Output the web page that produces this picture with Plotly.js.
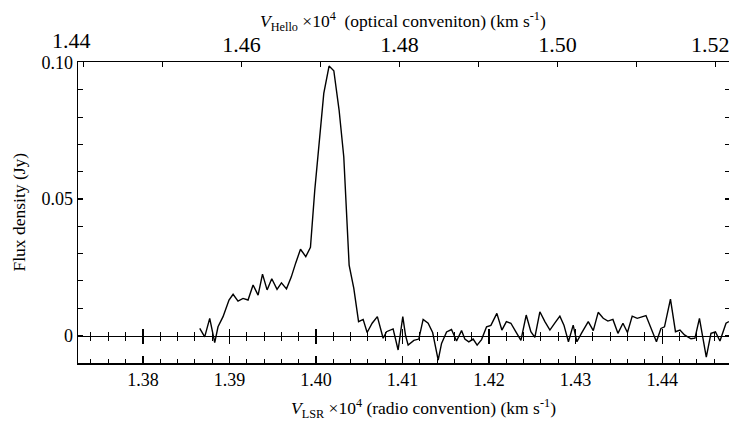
<!DOCTYPE html>
<html>
<head>
<meta charset="utf-8">
<script src="https://cdn.plot.ly/plotly-3.0.1.min.js"></script>
<style>
html,body{margin:0;padding:0;overflow:hidden;background:#fff;width:729px;height:421px;}
#chart{width:733px;height:421px;}
</style>
</head>
<body>
<div id="chart"></div>
<script>
// Radio-convention velocity (x10^4 km/s) of each channel
const velocityRadio = [
1.38657,1.38714,1.38772,1.38830,1.38868,1.38926,1.38995,1.39042,1.39099,1.39157,
1.39215,1.39273,1.39331,1.39382,1.39435,1.39489,1.39550,1.39601,1.39659,1.39714,
1.39766,1.39821,1.39882,1.39936,1.39986,1.40044,1.40090,1.40151,1.40206,1.40267,
1.40321,1.40383,1.40437,1.40492,1.40545,1.40591,1.40649,1.40709,1.40776,1.40815,
1.40891,1.40949,1.41003,1.41035,1.41065,1.41131,1.41188,1.41238,1.41296,1.41348,
1.41412,1.41451,1.41509,1.41566,1.41624,1.41682,1.41720,1.41766,1.41816,1.41862,
1.41913,1.41971,1.42021,1.42090,1.42148,1.42200,1.42252,1.42310,1.42368,1.42429,
1.42483,1.42529,1.42587,1.42645,1.42703,1.42761,1.42818,1.42865,1.42917,1.42972,
1.43015,1.43067,1.43146,1.43204,1.43261,1.43319,1.43373,1.43431,1.43489,1.43547,
1.43599,1.43654,1.43712,1.43813,1.43871,1.43934,1.43986,1.44027,1.44096,1.44154,
1.44206,1.44258,1.44333,1.44379,1.44431,1.44464,1.44510,1.44564,1.44616,1.44668,
1.44738,1.44772
];
// Flux density (Jy)
const fluxDensity = [
0.0026,-0.0005,0.0063,-0.0026,0.0032,0.0069,0.0130,0.0151,0.0126,0.0136,
0.0130,0.0185,0.0148,0.0225,0.0167,0.0208,0.0169,0.0193,0.0171,0.0214,
0.0266,0.0316,0.0289,0.0323,0.0533,0.0716,0.0887,0.0987,0.0970,0.0826,
0.0655,0.0258,0.0173,0.0051,0.0059,0.0011,0.0045,0.0069,-0.0010,0.0014,
0.0024,-0.0053,0.0069,0.0000,-0.0035,-0.0018,-0.0013,0.0059,0.0045,0.0011,
-0.0090,-0.0029,0.0013,0.0022,-0.0020,0.0018,-0.0013,-0.0023,-0.0013,-0.0035,
-0.0015,0.0032,0.0037,0.0081,0.0020,0.0051,0.0045,0.0013,-0.0018,0.0075,
0.0014,-0.0007,0.0087,0.0051,0.0020,0.0046,0.0071,0.0038,-0.0023,0.0038,
-0.0023,0.0008,0.0051,0.0018,0.0085,0.0063,0.0053,0.0059,0.0008,0.0045,
0.0011,0.0071,0.0063,0.0073,0.0026,-0.0023,0.0026,0.0032,0.0133,0.0014,
0.0020,0.0002,-0.0012,-0.0010,0.0063,0.0002,-0.0079,0.0008,0.0013,-0.0020,
0.0045,0.0051
];
const yTickVals = [0, 0.05, 0.10];
const yTickText = ['0', '0.05', '0.10'];
// optical-convention (top) axis labels
const topTickVals = [1.46, 1.48, 1.50];
const topTickText = ['1.46', '1.48', '1.50'];
const topEdgeLabels = ['1.44', '1.52'];
const topEdgeVals = [1.4385, 1.5194];

const xRange = [1.37250, 1.44784];
const x2Range = [1.43932, 1.52181];
const yRange = [-0.01007, 0.1002];
const zeroPos = (0 - yRange[0]) / (yRange[1] - yRange[0]);

const serif = 'Liberation Serif, Times New Roman, serif';
const tickFont = {family: serif, size: 18, color: '#000'};
const topTickFont = {family: serif, size: 22, color: '#000'};
const titleFont = {family: serif, size: 17.5, color: '#000'};

const trace = {
  x: velocityRadio, y: fluxDensity, type: 'scatter', mode: 'lines',
  line: {color: '#000', width: 1.4}, xaxis: 'x', yaxis: 'y', showlegend: false,
  hoverinfo: 'skip'
};

const zeroAxis = (ticksDir, len, minorLen) => ({
  overlaying: 'x', anchor: 'free', position: zeroPos, side: 'bottom',
  range: xRange, showgrid: false, zeroline: false, showticklabels: false,
  showline: true, linecolor: '#000', linewidth: 1.5,
  tickmode: 'linear', tick0: 1.38, dtick: 0.01, ticks: ticksDir, ticklen: len, tickwidth: 1.2, tickcolor: '#000',
  minor: {tick0: 1.38, dtick: 0.002, ticks: ticksDir, ticklen: minorLen, tickwidth: 1, tickcolor: '#000', showgrid: false}
});

const annotations = [
  {text: '<i>V</i><sub>Hello</sub> ×10<sup>4</sup>  (optical conveniton) (km s<sup>-1</sup>)',
   xref: 'paper', yref: 'paper', x: 0.499, y: 1, yshift: 41, xanchor: 'center', yanchor: 'middle',
   showarrow: false, font: titleFont},
  {text: '<i>V</i><sub>LSR</sub> ×10<sup>4</sup> (radio convention) (km s<sup>-1</sup>)',
   xref: 'paper', yref: 'paper', x: 0.53, y: 0, yshift: -45, xanchor: 'center', yanchor: 'middle',
   showarrow: false, font: titleFont},
  {text: 'Flux density (Jy)', textangle: -90,
   xref: 'paper', yref: 'paper', x: 0, xshift: -60, y: 0.5, xanchor: 'center', yanchor: 'middle',
   showarrow: false, font: titleFont}
];
// edge labels of the top axis, placed via the top axis scale (converted to paper fraction)
topEdgeLabels.forEach((t, i) => annotations.push({
  text: t, xref: 'paper', yref: 'paper',
  x: (topEdgeVals[i] - x2Range[0]) / (x2Range[1] - x2Range[0]), y: 1, yshift: i === 0 ? 22 : 18,
  xanchor: 'center', yanchor: 'middle', showarrow: false, font: topTickFont
}));

const layout = {
  width: 733, height: 421,
  margin: {l: 78, r: 3, t: 62, b: 58},
  paper_bgcolor: '#fff', plot_bgcolor: '#fff',
  showlegend: false,
  xaxis: {
    range: xRange, showgrid: false, zeroline: false,
    showline: true, linecolor: '#000', linewidth: 1.5,
    tickmode: 'linear', tick0: 1.38, dtick: 0.01, tickformat: '.2f',
    ticks: 'inside', ticklen: 7, tickwidth: 1.2, tickcolor: '#000',
    minor: {tick0: 1.38, dtick: 0.002, ticks: 'inside', ticklen: 4, tickwidth: 1, tickcolor: '#000', showgrid: false},
    tickfont: tickFont
  },
  xaxis2: {
    overlaying: 'x', side: 'top', anchor: 'y', range: x2Range,
    showgrid: false, zeroline: false,
    showline: true, linecolor: '#000', linewidth: 1.5,
    tickmode: 'array', tickvals: topTickVals, ticktext: topTickText,
    ticks: 'inside', ticklen: 5, tickwidth: 1.2, tickcolor: '#000',
    minor: {tick0: 1.44, dtick: 0.01, ticks: 'inside', ticklen: 5, tickwidth: 1, tickcolor: '#000', showgrid: false},
    tickfont: topTickFont
  },
  xaxis3: zeroAxis('inside', 7, 4),
  xaxis4: zeroAxis('outside', 7, 4),
  yaxis: {
    range: yRange, showgrid: false, zeroline: false,
    showline: true, linecolor: '#000', linewidth: 1.5, mirror: 'ticks',
    tickmode: 'array', tickvals: yTickVals, ticktext: yTickText,
    ticks: 'inside', ticklen: 5, tickwidth: 1.2, tickcolor: '#000',
    minor: {tick0: 0, dtick: 0.01, ticks: 'inside', ticklen: 5, tickwidth: 1, tickcolor: '#000', showgrid: false},
    tickfont: tickFont
  },
  annotations: annotations
};

// invisible traces so that the overlay axes are drawn
const ghost = (xa) => ({x: [xRange[0]], y: [0], xaxis: xa, yaxis: 'y', type: 'scatter', mode: 'markers',
  marker: {opacity: 0}, showlegend: false, hoverinfo: 'skip'});

Plotly.newPlot('chart', [trace, ghost('x2'), ghost('x3'), ghost('x4')], layout, {staticPlot: true, displayModeBar: false});
</script>
</body>
</html>
